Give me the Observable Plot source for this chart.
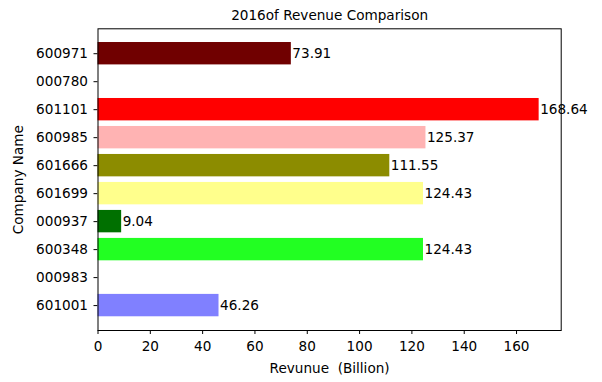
<!DOCTYPE html>
<html><head><meta charset="utf-8">
<script src="https://cdn.jsdelivr.net/npm/d3@7"></script>
<script src="https://cdn.jsdelivr.net/npm/@observablehq/plot@0.6"></script>
<style>body{margin:0;background:#fff} #chart svg text{white-space:pre}</style>
</head><body><div id="chart"></div>
<script>
const companies = ["600971","000780","601101","600985","601666","601699","000937","600348","000983","601001"];
const revenues = [73.91, null, 168.64, 125.37, 111.55, 124.43, 9.04, 124.43, null, 46.26];
const colors = ["#700000", "#000000", "#ff0000", "#ffb3b3", "#8c8c00", "#ffff8c", "#007000", "#22ff22", "#000000", "#8080ff"];
const xTicks = [0, 20, 40, 60, 80, 100, 120, 140, 160];
const titleText = "2016of Revenue Comparison";
const xLabel = "Revunue  (Billion)";
const yLabel = "Company Name";

const data = companies.map((c, i) => ({company: c, revenue: revenues[i], color: colors[i]}))
  .filter(d => d.revenue != null);

const chart = Plot.plot({
  width: 602, height: 382,
  marginLeft: 97.5, marginRight: 41.3, marginTop: 28.3, marginBottom: 52,
  style: {fontFamily: "DejaVu Sans", fontSize: "13.6px", color: "#000", background: "#fff", overflow: "visible"},
  color: {type: "identity"},
  x: {domain: [0, 168.64 * 1.05], ticks: xTicks, tickSize: 4, tickPadding: 7, label: xLabel, labelAnchor: "center", labelOffset: 42, labelArrow: "none"},
  y: {domain: companies, paddingInner: 0.2, paddingOuter: 0.49, round: false, tickSize: 4, tickPadding: 6, label: yLabel, labelAnchor: "center", labelOffset: 85},
  marks: [
    Plot.barX(data, {x: "revenue", y: "company", fill: d => d.color}),
    Plot.text(data, {x: "revenue", y: "company", text: d => d.revenue.toFixed(2), textAnchor: "start", dx: 1, fill: "#000"}),
    Plot.frame({stroke: "#000"}),
    Plot.text([titleText], {frameAnchor: "top", lineAnchor: "middle", dy: -13, fill: "#000"})
  ]
});
document.getElementById("chart").appendChild(chart);
</script>
</body></html>
